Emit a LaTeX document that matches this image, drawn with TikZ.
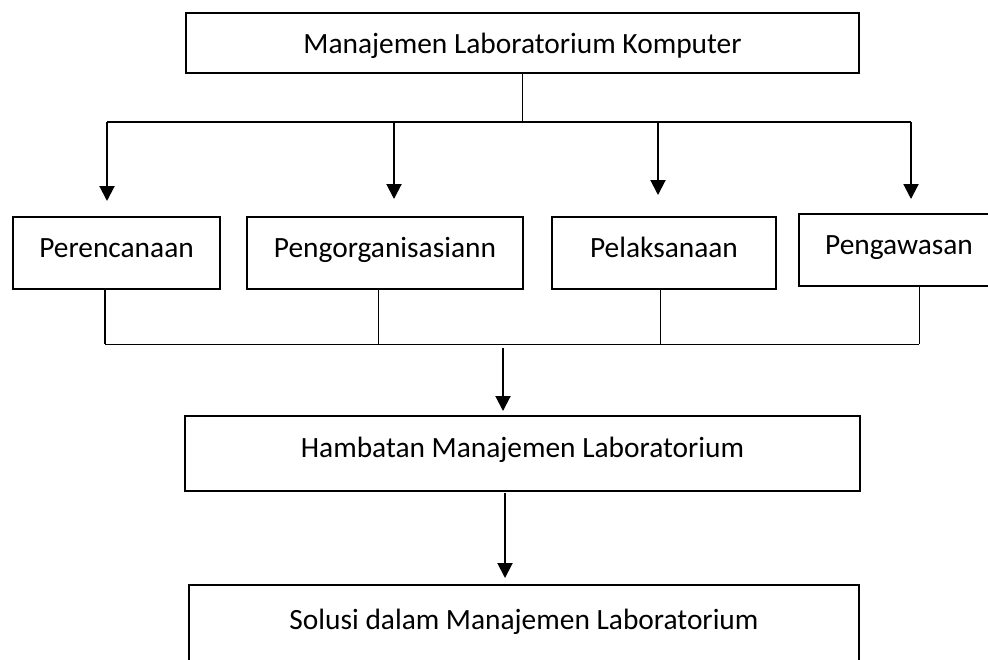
\documentclass[tikz,border=0pt]{standalone}
\usepackage{fontspec}
\setmainfont{Carlito}
\usetikzlibrary{arrows.meta}
\tikzset{
  kotak/.style={draw, line width=1pt, inner sep=0pt, minimum height=36pt,
    font=\fontsize{14.7}{18}\selectfont, text height=10.5pt, text depth=6.5pt},
  panah/.style={-{Triangle[width=7.5pt,length=7.5pt]}, line width=1pt},
  garis/.style={line width=0.5pt},
}
\begin{document}
\begin{tikzpicture}[x=0.5pt,y=-0.5pt]
\useasboundingbox (0,0) rectangle (988,659);
\node[kotak,minimum width=336.5pt,minimum height=30pt,text height=10pt,text depth=0pt] (mlk) at (522.5,43) {Manajemen Laboratorium Komputer};
\node[kotak,minimum width=103.5pt] (per) at (116.5,253) {Perencanaan};
\node[kotak,minimum width=138pt] (org) at (385,253) {Pengorganisasiann};
\node[kotak,minimum width=112pt] (pel) at (664,253) {Pelaksanaan};
\node[kotak,minimum width=100pt] (pen) at (899,250) {Pengawasan};
\node[kotak,minimum width=337.5pt,minimum height=37.5pt] (ham) at (522.5,453.5) {Hambatan Manajemen Laboratorium};
\node[kotak,minimum width=335pt,minimum height=40pt] (sol) at (524,625) {Solusi dalam Manajemen Laboratorium};
% cabang atas
\coordinate (a1) at (107,122);
\coordinate (a2) at (394,122);
\coordinate (a3) at (658,122);
\coordinate (a4) at (911,122);
\draw[garis] (mlk.south) -- (mlk.south |- a1);
\draw[line width=1pt] (a1) -- (a4);
\draw[panah,shorten >=7.5pt] (a1) -- (a1 |- per.north);
\draw[panah,shorten >=8.5pt] (a2) -- (a2 |- org.north);
\draw[panah,shorten >=10.5pt] (a3) -- (a3 |- pel.north);
\draw[panah,shorten >=7pt] (a4) -- (a4 |- pen.north);
% cabang bawah
\coordinate (b1) at (105,344);
\coordinate (b2) at (378,344);
\coordinate (b3) at (660,344);
\coordinate (b4) at (919,344);
\draw[line width=1pt] (b1 |- per.south) -- (b1);
\draw[garis] (b2 |- org.south) -- (b2);
\draw[garis] (b3 |- pel.south) -- (b3);
\draw[garis] (b4 |- pen.south) -- (b4);
\draw[garis] (b1) -- (b4);
\coordinate (c1) at (503,348);
\coordinate (c2) at (505,493);
\draw[panah,shorten >=2pt] (c1) -- (c1 |- ham.north);
\draw[panah,shorten >=3pt] (c2) -- (c2 |- sol.north);
\end{tikzpicture}
\end{document}
